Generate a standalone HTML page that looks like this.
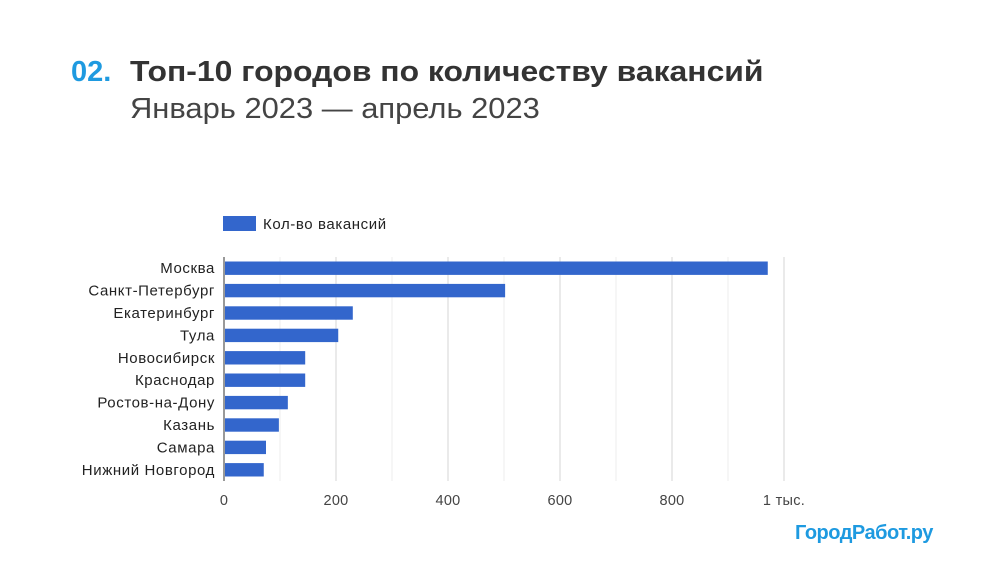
<!DOCTYPE html>
<html><head><meta charset="utf-8"><style>
body{margin:0;width:1006px;height:564px;background:#fff;overflow:hidden;font-family:"Liberation Sans",sans-serif;position:relative}
.t{position:absolute;white-space:nowrap;transform-origin:left top}
</style></head><body>
<div class="t" style="left:71px;top:56px;font-size:29px;font-weight:bold;color:#1e9ae0">02.</div>
<div class="t" style="left:130px;top:56px;font-size:29px;font-weight:bold;color:#333;transform:scaleX(1.1)">Топ-10 городов по количеству вакансий</div>
<div class="t" style="left:130px;top:93px;font-size:29px;color:#444;transform:scaleX(1.065)">Январь 2023 — апрель 2023</div>
<div class="t" style="left:795px;top:522px;font-size:20px;font-weight:bold;color:#1e9ae0;letter-spacing:-0.5px">ГородРабот.ру</div>
<svg id="c" width="1006" height="564" style="position:absolute;left:0;top:0"></svg>
<script>
const categories=["Москва","Санкт-Петербург","Екатеринбург","Тула","Новосибирск","Краснодар","Ростов-на-Дону","Казань","Самара","Нижний Новгород"];
const values=[971,502,230,204,145,145,114,98,75,71];
const ticks=[0,200,400,600,800,1000];
const tickLabels=["0","200","400","600","800","1 тыс."];
const svg=document.getElementById('c');const NS="http://www.w3.org/2000/svg";
const x0=224,x1=784,vmax=1000,yTop=257,yBot=481;
const xs=v=>x0+(x1-x0)*v/vmax;
const step=(yBot-yTop)/categories.length;
function mk(t,a){const e=document.createElementNS(NS,t);for(const k in a)e.setAttribute(k,a[k]);svg.appendChild(e);return e;}
for(let v=100;v<=vmax;v+=100){const g=mk('line',{x1:xs(v),x2:xs(v),y1:yTop,y2:yBot,stroke:v%200?'#ececec':'#d6d6d6','stroke-width':1});

}
ticks.forEach((v,i)=>{const t=mk('text',{x:xs(v),y:505,'text-anchor':'middle','font-size':14.5,fill:'#444','font-family':'Liberation Sans','letter-spacing':0.3});t.textContent=tickLabels[i];

});
categories.forEach((c,i)=>{const cy=yTop+step*(i+0.5);
const r=mk('rect',{x:x0+1,y:cy-6.7,width:xs(values[i])-x0-1,height:13.4,fill:'#3366cc'});


const t=mk('text',{x:215,y:cy+5,'text-anchor':'end','font-size':15,fill:'#222','font-family':'Liberation Sans','letter-spacing':0.6});t.textContent=c;

});
const ax=mk('line',{x1:x0,x2:x0,y1:yTop,y2:yBot,stroke:'#333','stroke-width':1});


const lr=mk('rect',{x:223,y:216,width:33,height:15,fill:'#3366cc'});


const lt=mk('text',{x:263,y:229,'font-size':15,fill:'#222','font-family':'Liberation Sans','letter-spacing':0.6});lt.textContent='Кол-во вакансий';


</script>
</body></html>
